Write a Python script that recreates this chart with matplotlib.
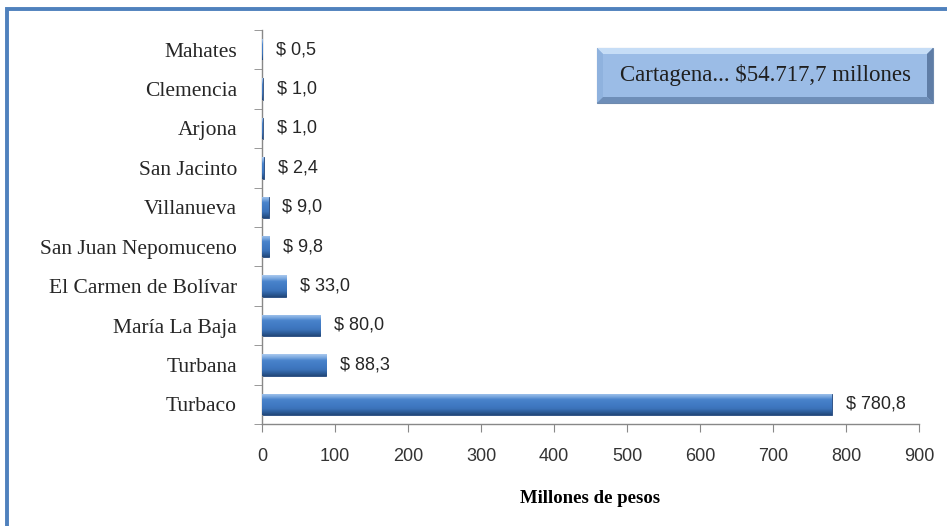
import matplotlib.pyplot as plt
import numpy as np
from matplotlib.patches import Rectangle, Polygon
from matplotlib.colors import LinearSegmentedColormap

# municipalities (bottom to top) and amounts in millions of pesos
municipios = ["Turbaco", "Turbana", "María La Baja", "El Carmen de Bolívar",
              "San Juan Nepomuceno", "Villanueva", "San Jacinto", "Arjona",
              "Clemencia", "Mahates"]
valores = [780.8, 88.3, 80.0, 33.0, 9.8, 9.0, 2.4, 1.0, 1.0, 0.5]
etiquetas = ["$ 780,8", "$ 88,3", "$ 80,0", "$ 33,0", "$ 9,8", "$ 9,0",
             "$ 2,4", "$ 1,0", "$ 1,0", "$ 0,5"]
xticks = [0, 100, 200, 300, 400, 500, 600, 700, 800, 900]
recuadro = "Cartagena... $54.717,7 millones"

serif = "Liberation Serif"
sans = "Liberation Sans"
W, H = 947, 526

fig = plt.figure(figsize=(W / 100, H / 100), dpi=100)
ax = fig.add_axes([262 / W, 1 - 424 / H, 657 / W, 394 / H])

# blue frame around the chart
fig.patches.append(Rectangle((6.5 / W, -0.2), 1.2, 1.2 - 8.5 / H,
                             transform=fig.transFigure, fill=False,
                             edgecolor="#4F81BD", linewidth=2.8))

# bars with a bevel-like vertical gradient
pos = np.arange(len(municipios))
h = 0.54
bars = ax.barh(pos, valores, height=h, color="#3D73BA", edgecolor="#22467A",
               linewidth=0.6, zorder=2)
grad_cmap = LinearSegmentedColormap.from_list(
    "bevel", ["#22487A", "#2E5E9C", "#3B72B9", "#4079C2", "#437DC6",
              "#4A84CC", "#7DAAE0", "#A8C8EE"])
grad = np.linspace(0, 1, 64).reshape(-1, 1)
for b in bars:
    x0, y0, w, hh = b.get_x(), b.get_y(), b.get_width(), b.get_height()
    im = ax.imshow(grad, extent=(x0, x0 + w, y0, y0 + hh), origin="lower",
                   aspect="auto", cmap=grad_cmap, zorder=3)
    im.set_clip_path(b)

for p, v, t in zip(pos, valores, etiquetas):
    ax.annotate(t, (v, p), xytext=(10, 0), textcoords="offset points",
                va="center", ha="left", fontsize=13, family=sans,
                color="#262626")

ax.set_xlim(0, 900)
ax.set_ylim(-0.5, len(municipios) - 0.5)
ax.set_xticks(xticks)
ax.set_yticks(pos)
ax.set_yticklabels(municipios, family=serif, fontsize=15.5, color="#262626")
ax.set_yticks(np.arange(-0.5, len(municipios), 1), minor=True)
ax.tick_params(axis="y", which="major", length=0, pad=18)
ax.tick_params(axis="y", which="minor", length=6, color="#888888", direction="out")
ax.tick_params(axis="x", length=6, color="#888888", pad=11, labelsize=13)
for lab in ax.get_xticklabels():
    lab.set_family(sans)
    lab.set_color("#333333")
for s in ["top", "right"]:
    ax.spines[s].set_visible(False)
for s in ["left", "bottom"]:
    ax.spines[s].set_color("#888888")
    ax.spines[s].set_linewidth(1.0)

ax.set_xlabel("Millones de pesos", family=serif, fontweight="bold",
              fontsize=13.5, labelpad=18)

# Cartagena box with bevelled edges (pixel coordinates -> figure fractions)
x1, x2, y1, y2, e = 597, 933, 48, 103, 6
def fp(pts):
    return [(px / W, 1 - py / H) for px, py in pts]
fig.patches.append(Polygon(fp([(x1, y1), (x2, y1), (x2, y2), (x1, y2)]),
                           transform=fig.transFigure, facecolor="#9BBCE6",
                           edgecolor="#6E8AAE", lw=0.8))
fig.patches.append(Polygon(fp([(x1, y1), (x2, y1), (x2 - e, y1 + e), (x1 + e, y1 + e)]),
                           transform=fig.transFigure, facecolor="#C6DDF6", lw=0))
fig.patches.append(Polygon(fp([(x1, y1), (x1 + e, y1 + e), (x1 + e, y2 - e), (x1, y2)]),
                           transform=fig.transFigure, facecolor="#8FB2DE", lw=0))
fig.patches.append(Polygon(fp([(x2, y1), (x2, y2), (x2 - e, y2 - e), (x2 - e, y1 + e)]),
                           transform=fig.transFigure, facecolor="#5F7DA6", lw=0))
fig.patches.append(Polygon(fp([(x1, y2), (x1 + e, y2 - e), (x2 - e, y2 - e), (x2, y2)]),
                           transform=fig.transFigure, facecolor="#6E8EB8", lw=0))
fig.text((x1 + x2) / 2 / W, 1 - (y1 + y2) / 2 / H, recuadro, family=serif,
         fontsize=16.5, ha="center", va="center", color="#1F1F1F")

fig.savefig("out.png", dpi=100)
